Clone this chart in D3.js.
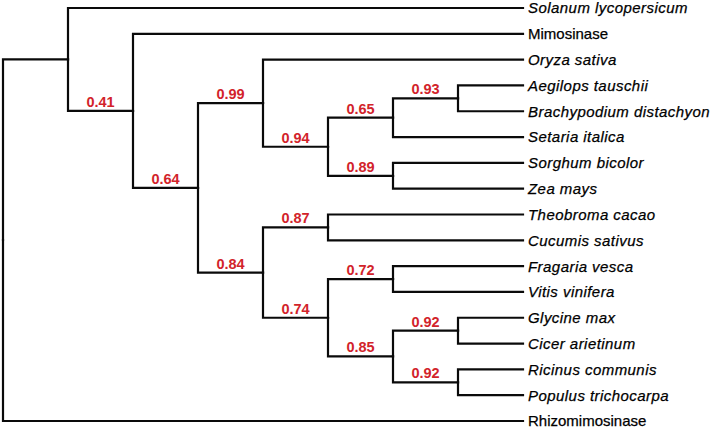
<!DOCTYPE html>
<html>
<head>
<meta charset="utf-8">
<script src="https://cdn.jsdelivr.net/npm/d3@7"></script>
<style>
  html, body { margin: 0; padding: 0; background: #fff; }
  svg { display: block; }
</style>
</head>
<body>
<svg id="chart" width="717" height="428"></svg>
<script>
// ---- data ----
const leafNames = [
  "Solanum lycopersicum", "Mimosinase", "Oryza sativa", "Aegilops tauschii",
  "Brachypodium distachyon", "Setaria italica", "Sorghum bicolor", "Zea mays",
  "Theobroma cacao", "Cucumis sativus", "Fragaria vesca", "Vitis vinifera",
  "Glycine max", "Cicer arietinum", "Ricinus communis", "Populus trichocarpa",
  "Rhizomimosinase"
];
const leafParents = ["A","B","D","G","G","F","H","H","J","J","L","L","N","N","O","O","root"];
const leafItalic = [true,false,true,true,true,true,true,true,true,true,true,true,true,true,true,true,false];

const nodeIds     = ["root","A","B","C","D","E","F","G","H","I","J","K","L","M","N","O"];
const nodeParents = [null,"root","A","B","C","D","E","F","E","C","I","I","K","K","M","M"];
const nodeSupport = [null,null,0.41,0.64,0.99,0.94,0.65,0.93,0.89,0.84,0.87,0.74,0.72,0.85,0.92,0.92];

// ---- build table ----
const table = nodeIds.map((id, i) => ({ id, parent: nodeParents[i], support: nodeSupport[i], leaf: false }))
  .concat(leafNames.map((name, i) => ({ id: name, parent: leafParents[i], support: null, leaf: true, italic: leafItalic[i] })));

const root = d3.stratify().id(d => d.id).parentId(d => d.parent)(table);

const totalDepth = d3.max(root.leaves(), d => d.depth);
const x = d3.scaleLinear().domain([0, totalDepth]).range([3, 523]);
const y = d3.scalePoint().domain(leafNames).range([8, 421]);

// positions
root.eachAfter(n => {
  if (!n.children) {
    n.px = x(totalDepth);
    n.py = y(n.data.id);
  } else {
    n.px = x(n.depth);
    const ys = n.children.map(c => c.py);
    n.py = (d3.min(ys) + d3.max(ys)) / 2;
  }
});

const svg = d3.select("#chart");

// branches
svg.append("g")
  .selectAll("path")
  .data(root.links())
  .join("path")
  .attr("d", l => `M${l.source.px},${l.source.py}V${l.target.py}H${l.target.px}`)
  .attr("fill", "none")
  .attr("stroke", "#0a0a0a")
  .attr("stroke-width", 2.2)
  .attr("stroke-linejoin", "miter")
  .attr("stroke-linecap", "square");

// support values
svg.append("g")
  .selectAll("text")
  .data(root.descendants().filter(n => n.data.support != null))
  .join("text")
  .attr("x", n => (n.parent.px + n.px) / 2)
  .attr("y", n => n.py - 4)
  .attr("text-anchor", "middle")
  .attr("font-family", "'Liberation Sans', Arial, sans-serif")
  .attr("font-weight", "bold")
  .attr("font-size", 14.5)
  .attr("fill", "#d2232a")
  .text(n => d3.format(".2f")(n.data.support));

// leaf labels
svg.append("g")
  .selectAll("text")
  .data(root.leaves())
  .join("text")
  .attr("x", n => n.px + 5)
  .attr("y", n => n.py)
  .attr("dy", "0.36em")
  .attr("font-family", "'Liberation Sans', Arial, sans-serif")
  .attr("font-size", 15)
  .attr("letter-spacing", n => n.data.italic ? "0.45px" : "0px")
  .attr("font-style", n => n.data.italic ? "italic" : "normal")
  .attr("fill", "#000")
  .attr("stroke", "#000")
  .attr("stroke-width", 0.25)
  .text(n => n.data.id);
</script>
</body>
</html>
